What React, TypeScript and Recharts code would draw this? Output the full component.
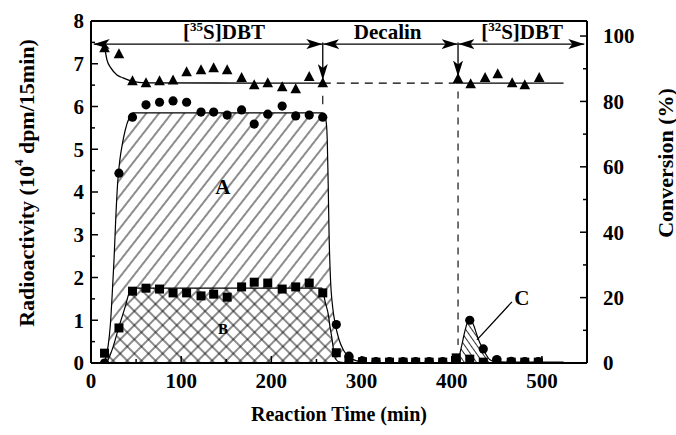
import React from 'react';
import {
  ComposedChart,
  Area,
  Line,
  Scatter,
  XAxis,
  YAxis,
  ReferenceLine,
  ReferenceDot,
} from 'recharts';

const FONT = '"Liberation Serif", "DejaVu Serif", "Times New Roman", serif';

// ---------- measured points ----------
// [35S]DBT feeding period, sampled every ~15 min
const times35 = [15, 31, 46, 61, 76, 91, 106, 122, 136, 151, 167, 181, 196, 212, 227, 242, 257];
const conversion35 = [96.3, 94.5, 86.2, 85.6, 86.2, 86.5, 89.0, 89.6, 90.2, 89.6, 87.2, 85.0, 85.6, 84.4, 83.8, 87.5, 85.6];
const circles35 = [0.0, 4.44, 5.75, 6.04, 6.1, 6.13, 6.1, 5.87, 5.87, 5.8, 5.92, 5.59, 5.82, 6.01, 5.78, 5.8, 5.75];
const squares35 = [0.23, 0.82, 1.68, 1.75, 1.73, 1.64, 1.64, 1.57, 1.61, 1.54, 1.78, 1.89, 1.87, 1.73, 1.78, 1.87, 1.64];

// decalin + [32S]DBT periods
const timesLater = [272, 286, 301, 316, 331, 346, 360, 375, 390, 405, 420, 435, 450, 466, 481, 496];
const circlesLater = [0.9, 0.16, 0.05, 0.03, 0.03, 0.03, 0.03, 0.03, 0.03, 0.07, 1.0, 0.33, 0.08, 0.04, 0.03, 0.03];
const squaresLater = [0.24, 0.07, 0.03, 0.02, 0.02, 0.02, 0.02, 0.02, 0.02, 0.12, 0.09, 0.02, 0.02, 0.02, 0.02, 0.02];

const times32 = [407, 421, 437, 451, 467, 481, 497];
const conversion32 = [86.9, 85.3, 87.2, 88.4, 85.6, 85.0, 87.2];

// ---------- drawn (fitted) curves, [time, value] ----------
const curveA: [number, number][] = [
  [13, 0], [16, 0.1], [19, 0.4], [21.5, 0.9], [23.5, 1.6], [25.5, 2.4], [27.5, 3.4], [29.5, 4.2],
  [32, 4.75], [35, 5.15], [38, 5.45], [42, 5.72], [47, 5.85], [256, 5.85], [259, 5.8], [261, 5.6],
  [262, 5.2], [263, 4.2], [264, 3.0], [265.5, 2.0], [268, 1.3], [271, 0.9], [275, 0.55], [280, 0.3],
  [286, 0.14], [295, 0.05], [305, 0.02],
];
const curveB: [number, number][] = [
  [17, 0], [20, 0.12], [24.4, 0.37], [31, 0.85], [37.7, 1.3], [43, 1.68], [46, 1.75], [256, 1.75],
  [258, 1.6], [260, 1.4], [263, 1.15], [265, 0.85], [267, 0.6], [269, 0.3], [271, 0.1], [276, 0.02], [285, 0],
];
const curveC: [number, number][] = [
  [404, 0.04], [407, 0.08], [411, 0.4], [415, 0.78], [418, 0.97], [421, 1.0], [424, 0.9], [428, 0.65],
  [431, 0.48], [434, 0.36], [438, 0.2], [442, 0.08], [448, 0.03], [460, 0.02], [524, 0.02],
];
const conversionFit1: [number, number][] = [
  [15.5, 96.0], [17.7, 92.7], [22.2, 90.2], [28.8, 88.1], [35.5, 87.2], [45.5, 86.2], [60, 85.7], [257, 85.6],
];
const conversionDashed: [number, number][] = [[257, 85.6], [404, 85.6]];
const conversionFit2: [number, number][] = [[404, 85.6], [524, 85.6]];

// ---------- ticks ----------
const xTicks = [0, 50, 100, 150, 200, 250, 300, 350, 400, 450, 500];
const leftTicks = [0, 0.5, 1, 1.5, 2, 2.5, 3, 3.5, 4, 4.5, 5, 5.5, 6, 6.5, 7, 7.5, 8];
const rightTicks = [0, 10, 20, 30, 40, 50, 60, 70, 80, 90, 100];

const toPts = (ts: number[], vs: number[]) => ts.map((t, i) => ({ t, v: vs[i] }));
const toObj = (arr: [number, number][]) => arr.map(([t, v]) => ({ t, v }));

const circleData = [...toPts(times35, circles35), ...toPts(timesLater, circlesLater)];
const squareData = [...toPts(times35, squares35), ...toPts(timesLater, squaresLater)];
const triangleData = [...toPts(times35, conversion35), ...toPts(times32, conversion32)];

const tickFont = { fontFamily: FONT, fontWeight: 700, fontSize: 21, fill: '#000' } as const;

const LeftTick = (p: any) => {
  const v = p.payload.value;
  const major = Number.isInteger(v);
  const ax = p.x + 7;
  return (
    <g>
      <line x1={ax} x2={ax + (major ? 7 : 4)} y1={p.y} y2={p.y} stroke="#000" strokeWidth={1.5} />
      {major && (
        <text x={p.x} y={p.y} dy="0.35em" textAnchor="end" {...tickFont}>
          {v}
        </text>
      )}
    </g>
  );
};

const RightTick = (p: any) => {
  const v = p.payload.value;
  const major = v % 20 === 0;
  const ax = p.x - 16;
  return (
    <g>
      <line x1={ax} x2={ax - (major ? 7 : 4)} y1={p.y} y2={p.y} stroke="#000" strokeWidth={1.5} />
      {major && (
        <text x={p.x} y={p.y} dy="0.35em" textAnchor="start" {...tickFont}>
          {v}
        </text>
      )}
    </g>
  );
};

const BottomTick = (p: any) => {
  const v = p.payload.value;
  const major = v % 100 === 0;
  const ay = p.y - 10;
  return (
    <g>
      {v > 0 && <line x1={p.x} x2={p.x} y1={ay} y2={ay - (major ? 7 : 4)} stroke="#000" strokeWidth={1.5} />}
      {major && (
        <text x={p.x} y={p.y} dy="0.71em" textAnchor="middle" {...tickFont}>
          {v}
        </text>
      )}
    </g>
  );
};

const circleShape = (p: any) => <circle cx={p.cx} cy={p.cy} r={4.6} fill="#000" />;
const squareShape = (p: any) => <rect x={p.cx - 4.5} y={p.cy - 4.5} width={9} height={9} fill="#000" />;
const triangleShape = (p: any) => (
  <polygon
    points={`${p.cx},${p.cy - 5.8} ${p.cx - 5.3},${p.cy + 4.2} ${p.cx + 5.3},${p.cy + 4.2}`}
    fill="#000"
  />
);

const headStyle = { fontFamily: FONT, fontWeight: 700, fontSize: 21, fill: '#000' } as const;

const HeaderText = ({ cx, cy, sup, main, tail }: any) => (
  <text x={cx} y={cy} textAnchor="middle" {...headStyle}>
    {sup ? (
      <>
        [<tspan fontSize={13} dy={-8}>{sup}</tspan>
        <tspan dy={8}>{tail}</tspan>
      </>
    ) : (
      main
    )}
  </text>
);

const LetterText = ({ cx, cy, letter, size }: any) => (
  <text x={cx} y={cy} dy="0.35em" textAnchor="middle" fontFamily={FONT} fontWeight={700} fontSize={size} fill="#000">
    {letter}
  </text>
);

const arrowProps = {
  stroke: '#000',
  strokeWidth: 1.3,
  markerStart: 'url(#arrowhead)',
  markerEnd: 'url(#arrowhead)',
} as any;

export default function App() {
  return (
    <div style={{ position: 'absolute', left: 0, top: 0, background: '#fff' }}>
      <ComposedChart width={676} height={435} margin={{ top: 21, right: 29, bottom: 42, left: 31 }}>
        <defs>
          <pattern id="hatchA" patternUnits="userSpaceOnUse" width="10" height="10" patternTransform="rotate(38)">
            <line x1="5" y1="0" x2="5" y2="10" stroke="#000" strokeWidth="0.9" />
          </pattern>
          <pattern id="hatchB" patternUnits="userSpaceOnUse" width="10" height="10" patternTransform="rotate(45)">
            <rect width="10" height="10" fill="#fff" />
            <line x1="5" y1="0" x2="5" y2="10" stroke="#000" strokeWidth="0.9" />
            <line x1="0" y1="5" x2="10" y2="5" stroke="#000" strokeWidth="0.9" />
          </pattern>
          <pattern id="hatchC" patternUnits="userSpaceOnUse" width="5" height="10" patternTransform="rotate(-35)">
            <line x1="2.5" y1="0" x2="2.5" y2="10" stroke="#000" strokeWidth="0.8" />
          </pattern>
          <marker
            id="arrowhead"
            viewBox="0 0 16 10"
            refX="16"
            refY="5"
            markerWidth="16"
            markerHeight="10"
            markerUnits="userSpaceOnUse"
            orient="auto-start-reverse"
          >
            <path d="M0,0 L16,5 L0,10 L4,5 z" fill="#000" />
          </marker>
        </defs>

        <XAxis
          type="number"
          dataKey="t"
          domain={[0, 550]}
          ticks={xTicks}
          interval={0}
          tickSize={0}
          tickMargin={10}
          tickLine={false}
          tick={<BottomTick />}
          axisLine={{ stroke: '#000', strokeWidth: 2 }}
          height={30}
          allowDataOverflow
          label={{
            content: (p: any) => (
              <text
                x={p.viewBox.x + p.viewBox.width / 2}
                y={p.viewBox.y + 58}
                textAnchor="middle"
                fontFamily={FONT}
                fontWeight={700}
                fontSize={20}
                fill="#000"
              >
                Reaction Time (min)
              </text>
            ),
          }}
        />
        <YAxis
          yAxisId="left"
          type="number"
          domain={[0, 8]}
          ticks={leftTicks}
          interval={0}
          tickSize={0}
          tickMargin={7}
          tickLine={false}
          tick={<LeftTick />}
          axisLine={{ stroke: '#000', strokeWidth: 2 }}
          width={60}
          allowDataOverflow
          label={{
            content: (p: any) => {
              const x = p.viewBox.x - 5;
              const y = p.viewBox.y + p.viewBox.height / 2 - 9;
              return (
                <text
                  x={x}
                  y={y}
                  transform={`rotate(-90, ${x}, ${y})`}
                  textAnchor="middle"
                  dominantBaseline="central"
                  fontFamily={FONT}
                  fontWeight={700}
                  fontSize={22}
                  fill="#000"
                >
                  Radioactivity (10<tspan fontSize={13} dy={-8}>4</tspan>
                  <tspan dy={8}> dpm/15min)</tspan>
                </text>
              );
            },
          }}
        />
        <YAxis
          yAxisId="right"
          orientation="right"
          type="number"
          domain={[0, 104.6]}
          ticks={rightTicks}
          interval={0}
          tickSize={0}
          tickMargin={16}
          tickLine={false}
          tick={<RightTick />}
          axisLine={{ stroke: '#000', strokeWidth: 2 }}
          width={60}
          allowDataOverflow
          label={{
            content: (p: any) => {
              const x = p.viewBox.x + 78;
              const y = p.viewBox.y + 142;
              return (
                <text
                  x={x}
                  y={y}
                  transform={`rotate(-90, ${x}, ${y})`}
                  textAnchor="middle"
                  dominantBaseline="central"
                  fontFamily={FONT}
                  fontWeight={700}
                  fontSize={22}
                  fill="#000"
                >
                  Conversion (%)
                </text>
              );
            },
          }}
        />

        <ReferenceLine yAxisId="left" y={8} stroke="#000" strokeWidth={2} />

        <Area
          yAxisId="left"
          data={toObj(curveA)}
          dataKey="v"
          type="monotone"
          stroke="#000"
          strokeWidth={1.2}
          fill="url(#hatchA)"
          fillOpacity={1}
          dot={false}
          activeDot={false}
          isAnimationActive={false}
        />
        <Area
          yAxisId="left"
          data={toObj(curveB)}
          dataKey="v"
          type="monotone"
          stroke="#000"
          strokeWidth={1.2}
          fill="url(#hatchB)"
          fillOpacity={1}
          dot={false}
          activeDot={false}
          isAnimationActive={false}
        />
        <Area
          yAxisId="left"
          data={toObj(curveC)}
          dataKey="v"
          type="monotone"
          stroke="#000"
          strokeWidth={1.2}
          fill="url(#hatchC)"
          fillOpacity={1}
          dot={false}
          activeDot={false}
          isAnimationActive={false}
        />

        <Line
          yAxisId="right"
          data={toObj(conversionFit1)}
          dataKey="v"
          type="monotone"
          stroke="#000"
          strokeWidth={1.3}
          dot={false}
          activeDot={false}
          isAnimationActive={false}
        />
        <Line
          yAxisId="right"
          data={toObj(conversionDashed)}
          dataKey="v"
          type="linear"
          stroke="#000"
          strokeWidth={1.2}
          strokeDasharray="8 6"
          dot={false}
          activeDot={false}
          isAnimationActive={false}
        />
        <Line
          yAxisId="right"
          data={toObj(conversionFit2)}
          dataKey="v"
          type="linear"
          stroke="#000"
          strokeWidth={1.3}
          dot={false}
          activeDot={false}
          isAnimationActive={false}
        />

        {/* phase arrows */}
        <ReferenceLine yAxisId="left" segment={[{ x: 3, y: 7.46 }, { x: 256.5, y: 7.46 }]} {...arrowProps} />
        <ReferenceLine yAxisId="left" segment={[{ x: 257.5, y: 7.46 }, { x: 406.5, y: 7.46 }]} {...arrowProps} />
        <ReferenceLine yAxisId="left" segment={[{ x: 407.5, y: 7.46 }, { x: 547, y: 7.46 }]} {...arrowProps} />
        <ReferenceLine
          yAxisId="left"
          segment={[{ x: 257, y: 7.5 }, { x: 257, y: 6.62 }]}
          stroke="#000"
          strokeWidth={1.3}
          markerEnd="url(#arrowhead)"
        />
        <ReferenceLine
          yAxisId="left"
          segment={[{ x: 407, y: 7.5 }, { x: 407, y: 6.7 }]}
          stroke="#000"
          strokeWidth={1.3}
          markerEnd="url(#arrowhead)"
        />
        <ReferenceLine yAxisId="left" segment={[{ x: 257, y: 6.25 }, { x: 257, y: 6.05 }]} stroke="#000" strokeWidth={1.1} />
        <ReferenceLine
          yAxisId="left"
          segment={[{ x: 407, y: 6.35 }, { x: 407, y: 0.42 }]}
          stroke="#000"
          strokeWidth={1.1}
          strokeDasharray="7 6"
        />
        <ReferenceLine yAxisId="left" segment={[{ x: 466.7, y: 1.43 }, { x: 428, y: 0.54 }]} stroke="#000" strokeWidth={1.3} />

        <Scatter yAxisId="left" data={squareData} dataKey="v" shape={squareShape} isAnimationActive={false} />
        <Scatter yAxisId="left" data={circleData} dataKey="v" shape={circleShape} isAnimationActive={false} />
        <Scatter yAxisId="right" data={triangleData} dataKey="v" shape={triangleShape} isAnimationActive={false} />

        {/* text annotations */}
        <ReferenceDot yAxisId="left" x={147.5} y={7.58} r={0} shape={(p: any) => <HeaderText cx={p.cx} cy={p.cy} sup="35" tail="S]DBT" />} />
        <ReferenceDot yAxisId="left" x={329} y={7.58} r={0} shape={(p: any) => <HeaderText cx={p.cx} cy={p.cy} main="Decalin" />} />
        <ReferenceDot yAxisId="left" x={478} y={7.58} r={0} shape={(p: any) => <HeaderText cx={p.cx} cy={p.cy} sup="32" tail="S]DBT" />} />
        <ReferenceDot yAxisId="left" x={146.3} y={4.12} r={0} shape={(p: any) => <LetterText cx={p.cx} cy={p.cy} letter="A" size={21} />} />
        <ReferenceDot yAxisId="left" x={146.3} y={0.8} r={0} shape={(p: any) => <LetterText cx={p.cx} cy={p.cy} letter="B" size={15} />} />
        <ReferenceDot yAxisId="left" x={477.8} y={1.52} r={0} shape={(p: any) => <LetterText cx={p.cx} cy={p.cy} letter="C" size={21} />} />
      </ComposedChart>
    </div>
  );
}
